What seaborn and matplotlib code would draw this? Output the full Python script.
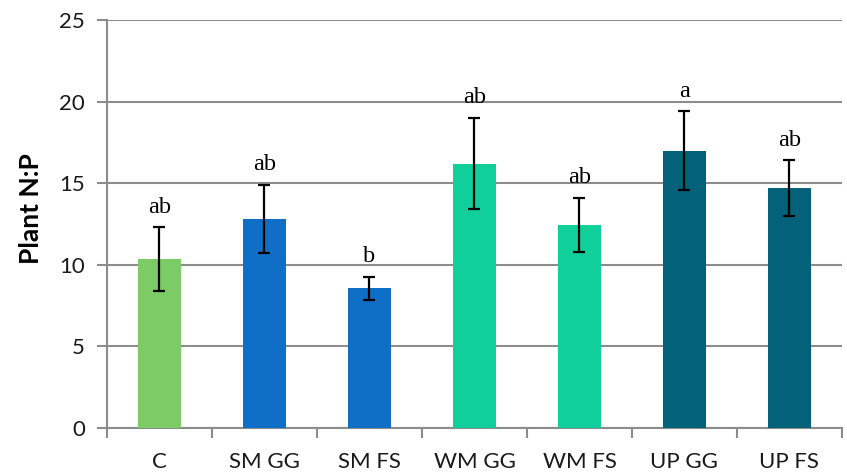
import matplotlib
matplotlib.use("Agg")
import matplotlib.pyplot as plt
import seaborn as sns
import numpy as np
import pandas as pd

categories = ["C", "SM GG", "SM FS", "WM GG", "WM FS", "UP GG", "UP FS"]
means = [10.35, 12.8, 8.55, 16.2, 12.45, 17.0, 14.7]
errors = [1.95, 2.1, 0.7, 2.8, 1.65, 2.4, 1.7]
letters = ["ab", "ab", "b", "ab", "ab", "a", "ab"]
colors = ["#7CCB64", "#0F6FC6", "#0F6FC6", "#10CF9B", "#10CF9B", "#03617A", "#03617A"]
y_ticks = [0, 5, 10, 15, 20, 25]

sns.set_theme(style="white")
plt.rcParams['font.family'] = ['Lato', 'DejaVu Sans']

df = pd.DataFrame({"cat": categories, "val": means})

fig = plt.figure(figsize=(8.47, 4.75), dpi=100)
ax = fig.add_axes([0.1263, 0.0989, 0.994 - 0.1263, 0.958 - 0.0989])

sns.barplot(data=df, x="cat", y="val", hue="cat", palette=colors, legend=False,
            width=0.41, ax=ax, saturation=1, zorder=3, linewidth=0)

xs = np.arange(len(categories))
ax.errorbar(xs, means, yerr=errors, fmt="none", ecolor="black", elinewidth=1.6,
            capsize=4.5, capthick=1.6, zorder=4)

for x, m, e, t in zip(xs, means, errors, letters):
    ax.annotate(t, xy=(x, m + e), xytext=(0, 7), textcoords="offset points",
                ha="center", va="bottom", fontsize=17.5,
                family=["Liberation Serif", "DejaVu Serif"], color="black")

ax.set_ylim(0, 25)
ax.set_xlim(-0.5, len(categories) - 0.5)
ax.set_yticks(y_ticks)
ax.yaxis.grid(True, color="#8c8c8c", linewidth=1.5, zorder=0)
ax.set_axisbelow(True)

for s in ["top", "right"]:
    ax.spines[s].set_visible(False)
for s in ["left", "bottom"]:
    ax.spines[s].set_color("#8c8c8c")
    ax.spines[s].set_linewidth(1.5)

ax.set_xlabel("")
ax.set_ylabel("Plant N:P", fontsize=19, fontweight="bold", color="black")
ax.yaxis.set_label_coords(-0.087, 0.539)

ax.tick_params(axis="y", which="major", length=7, width=1.5, color="#8c8c8c",
               labelsize=16, pad=9, labelcolor="#1a1a1a", left=True)
ax.set_xticks(np.arange(-0.5, len(categories), 1.0), minor=True)
ax.tick_params(axis="x", which="minor", length=7, width=1.5, color="#8c8c8c", bottom=True)
ax.tick_params(axis="x", which="major", length=0, labelsize=16, pad=17, labelcolor="#1a1a1a")

fig.savefig("out.png", dpi=100)
